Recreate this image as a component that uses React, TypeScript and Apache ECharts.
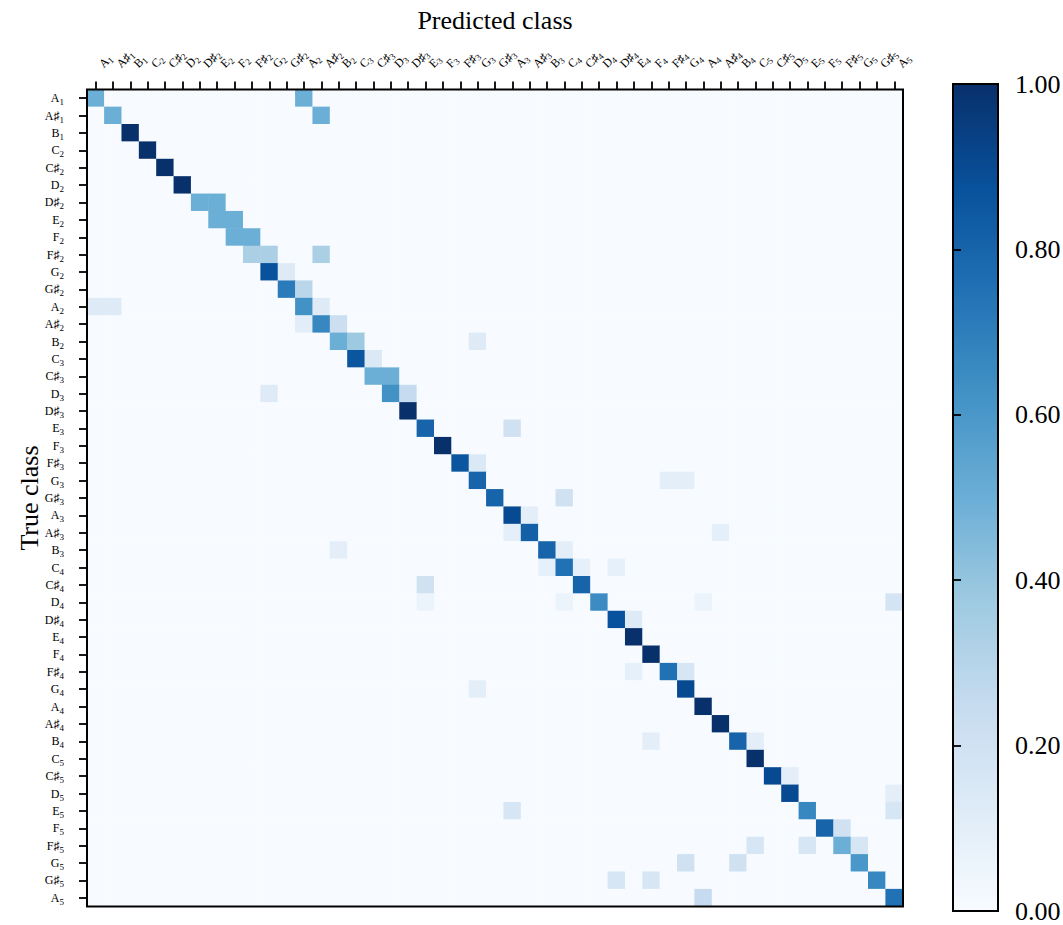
import React, { useEffect, useRef } from 'react';
import * as echarts from 'echarts';

// ---------- data ----------
const classes: string[] = [
  'A1', 'A#1', 'B1', 'C2', 'C#2', 'D2', 'D#2', 'E2', 'F2', 'F#2', 'G2', 'G#2',
  'A2', 'A#2', 'B2', 'C3', 'C#3', 'D3', 'D#3', 'E3', 'F3', 'F#3', 'G3', 'G#3',
  'A3', 'A#3', 'B3', 'C4', 'C#4', 'D4', 'D#4', 'E4', 'F4', 'F#4', 'G4', 'A4',
  'A#4', 'B4', 'C5', 'C#5', 'D5', 'E5', 'F5', 'F#5', 'G5', 'G#5', 'A5',
];

// Non-zero cells of the row-normalised confusion matrix: [true class, predicted class, value]
const nonzeroCells: [string, string, number][] = [
  ['A1', 'A1', 0.5], ['A1', 'A2', 0.5],
  ['A#1', 'A#1', 0.5], ['A#1', 'A#2', 0.5],
  ['B1', 'B1', 1.0],
  ['C2', 'C2', 1.0],
  ['C#2', 'C#2', 1.0],
  ['D2', 'D2', 1.0],
  ['D#2', 'D#2', 0.5], ['D#2', 'E2', 0.5],
  ['E2', 'E2', 0.5], ['E2', 'F2', 0.5],
  ['F2', 'F2', 0.5], ['F2', 'F#2', 0.5],
  ['F#2', 'F#2', 0.333], ['F#2', 'G2', 0.333], ['F#2', 'A#2', 0.333],
  ['G2', 'G2', 0.875], ['G2', 'G#2', 0.125],
  ['G#2', 'G#2', 0.714], ['G#2', 'A2', 0.286],
  ['A2', 'A1', 0.125], ['A2', 'A#1', 0.125], ['A2', 'A2', 0.625], ['A2', 'A#2', 0.125],
  ['A#2', 'A2', 0.111], ['A#2', 'A#2', 0.667], ['A#2', 'B2', 0.222],
  ['B2', 'B2', 0.5], ['B2', 'C3', 0.375], ['B2', 'G3', 0.125],
  ['C3', 'C3', 0.857], ['C3', 'C#3', 0.143],
  ['C#3', 'C#3', 0.5], ['C#3', 'D3', 0.5],
  ['D3', 'G2', 0.125], ['D3', 'D3', 0.625], ['D3', 'D#3', 0.25],
  ['D#3', 'D#3', 1.0],
  ['E3', 'E3', 0.8], ['E3', 'A3', 0.2],
  ['F3', 'F3', 1.0],
  ['F#3', 'F#3', 0.857], ['F#3', 'G3', 0.143],
  ['G3', 'G3', 0.8], ['G3', 'F#4', 0.1], ['G3', 'G4', 0.1],
  ['G#3', 'G#3', 0.8], ['G#3', 'C4', 0.2],
  ['A3', 'A3', 0.9], ['A3', 'A#3', 0.1],
  ['A#3', 'A3', 0.091], ['A#3', 'A#3', 0.818], ['A#3', 'A#4', 0.091],
  ['B3', 'B2', 0.1], ['B3', 'B3', 0.8], ['B3', 'C4', 0.1],
  ['C4', 'B3', 0.083], ['C4', 'C4', 0.75], ['C4', 'C#4', 0.083], ['C4', 'D#4', 0.083],
  ['C#4', 'E3', 0.2], ['C#4', 'C#4', 0.8],
  ['D4', 'E3', 0.059], ['D4', 'C4', 0.059], ['D4', 'D4', 0.647], ['D4', 'A4', 0.059], ['D4', 'A5', 0.176],
  ['D#4', 'D#4', 0.875], ['D#4', 'E4', 0.125],
  ['E4', 'E4', 1.0],
  ['F4', 'F4', 1.0],
  ['F#4', 'E4', 0.083], ['F#4', 'F#4', 0.75], ['F#4', 'G4', 0.167],
  ['G4', 'G3', 0.1], ['G4', 'G4', 0.9],
  ['A4', 'A4', 1.0],
  ['A#4', 'A#4', 1.0],
  ['B4', 'F4', 0.1], ['B4', 'B4', 0.8], ['B4', 'C5', 0.1],
  ['C5', 'C5', 1.0],
  ['C#5', 'C#5', 0.9], ['C#5', 'D5', 0.1],
  ['D5', 'D5', 0.9], ['D5', 'A5', 0.1],
  ['E5', 'A3', 0.167], ['E5', 'E5', 0.667], ['E5', 'A5', 0.167],
  ['F5', 'F5', 0.8], ['F5', 'F#5', 0.2],
  ['F#5', 'C5', 0.167], ['F#5', 'E5', 0.167], ['F#5', 'F#5', 0.5], ['F#5', 'G5', 0.167],
  ['G5', 'G4', 0.2], ['G5', 'B4', 0.2], ['G5', 'G5', 0.6],
  ['G#5', 'D#4', 0.167], ['G#5', 'F4', 0.167], ['G#5', 'G#5', 0.667],
  ['A5', 'A4', 0.25], ['A5', 'A5', 0.75],
];

// matplotlib "Blues" colormap stops
const bluesColormap: string[] = [
  '#f7fbff', '#deebf7', '#c6dbef', '#9ecae1', '#6baed6',
  '#4292c6', '#2171b5', '#08519c', '#08306b',
];

const colorbarMin = 0;
const colorbarMax = 1;
const colorbarStep = 0.2;

// ---------- layout / style ----------
const FONT = "'Liberation Serif', 'Times New Roman', 'DejaVu Serif', serif";
const PLOT = { left: 87, top: 89.5, width: 816, height: 817 };
const CBAR = { left: 953, top: 84, width: 45, height: 827 };

function noteLabel(code: string): string {
  const m = /^([A-G])(#?)(\d)$/.exec(code);
  if (!m) return code;
  return `{n|${m[1]}${m[2] ? '\u266F' : ''}}{s|${m[3]}}`;
}

function buildMatrix(): [number, number, number][] {
  const idx: Record<string, number> = {};
  classes.forEach((c, i) => (idx[c] = i));
  const grid: number[][] = classes.map(() => classes.map(() => 0));
  nonzeroCells.forEach(([t, p, v]) => {
    grid[idx[t]][idx[p]] = v;
  });
  const out: [number, number, number][] = [];
  for (let r = 0; r < classes.length; r++) {
    for (let c = 0; c < classes.length; c++) {
      out.push([c, r, grid[r][c]]);
    }
  }
  return out;
}

export default function App() {
  const ref = useRef<HTMLDivElement>(null);

  useEffect(() => {
    if (!ref.current) return;
    const chart = echarts.init(ref.current, undefined, { renderer: 'svg' });

    const tickStyle = { color: '#000', width: 1.8 };

    const option: any = {
      animation: false,
      backgroundColor: '#fff',
      textStyle: { fontFamily: FONT, color: '#000' },
      grid: [
        { ...PLOT, outerBoundsMode: 'none', containLabel: false, show: false },
        { ...CBAR, outerBoundsMode: 'none', containLabel: false, show: false },
      ],
      xAxis: [
        {
          type: 'category',
          gridIndex: 0,
          data: classes,
          position: 'top',
          z: 10,
          axisLine: { show: false },
          axisTick: { show: true, alignWithLabel: true, length: 8, lineStyle: tickStyle },
          splitLine: { show: false },
          axisLabel: {
            interval: 0,
            // ECharts negates the rotation for a top axis: -45 reads up-right
            rotate: -45,
            margin: 29,
            align: 'left',
            verticalAlign: 'top',
            hideOverlap: false,
            color: '#000',
            formatter: (v: string) => noteLabel(v),
            rich: {
              n: { fontSize: 12, fontFamily: FONT, color: '#000' },
              s: { fontSize: 9, fontFamily: FONT, color: '#000', padding: [6, 0, 0, 0] },
            },
          },
          name: 'Predicted class',
          nameLocation: 'middle',
          nameGap: 56,
          nameMoveOverlap: false,
          nameTextStyle: { fontSize: 26, fontFamily: FONT, color: '#000' },
        },
        { type: 'value', gridIndex: 1, show: false, min: 0, max: 1 },
      ],
      yAxis: [
        {
          type: 'category',
          gridIndex: 0,
          data: classes,
          inverse: true,
          z: 10,
          axisLine: { show: false },
          axisTick: { show: true, alignWithLabel: true, length: 8, lineStyle: tickStyle },
          splitLine: { show: false },
          axisLabel: {
            interval: 0,
            margin: 23,
            hideOverlap: false,
            color: '#000',
            formatter: (v: string) => noteLabel(v),
            rich: {
              n: { fontSize: 12, fontFamily: FONT, color: '#000' },
              s: { fontSize: 9, fontFamily: FONT, color: '#000', padding: [8, 0, 0, 0] },
            },
          },
          name: 'True class',
          nameLocation: 'middle',
          nameGap: 45,
          nameMoveOverlap: false,
          nameRotate: 90,
          nameTextStyle: { fontSize: 26, fontFamily: FONT, color: '#000' },
        },
        {
          type: 'value',
          gridIndex: 1,
          position: 'right',
          min: colorbarMin,
          max: colorbarMax,
          interval: colorbarStep,
          z: 10,
          axisLine: { show: false },
          axisTick: { show: true, length: 8, lineStyle: tickStyle },
          splitLine: { show: false },
          axisLabel: {
            margin: 17,
            color: '#000',
            fontSize: 26,
            fontFamily: FONT,
            padding: [6, 0, 0, 0],
            formatter: (v: number) => v.toFixed(2),
          },
        },
      ],
      visualMap: {
        type: 'continuous',
        seriesIndex: 0,
        min: colorbarMin,
        max: colorbarMax,
        calculable: false,
        hoverLink: false,
        orient: 'vertical',
        left: CBAR.left,
        top: CBAR.top,
        itemWidth: CBAR.width,
        itemHeight: CBAR.height,
        padding: 0,
        inRange: { color: bluesColormap },
      },
      graphic: [
        {
          type: 'rect',
          z: 100,
          silent: true,
          shape: { x: PLOT.left, y: PLOT.top, width: PLOT.width, height: PLOT.height },
          style: { fill: 'none', stroke: '#000', lineWidth: 2 },
        },
        {
          type: 'rect',
          z: 100,
          silent: true,
          shape: { x: CBAR.left, y: CBAR.top, width: CBAR.width, height: CBAR.height },
          style: { fill: 'none', stroke: '#000', lineWidth: 2 },
        },
      ],
      series: [
        {
          type: 'heatmap',
          xAxisIndex: 0,
          yAxisIndex: 0,
          data: buildMatrix(),
          itemStyle: { borderWidth: 0 },
          emphasis: { disabled: true },
        },
        {
          type: 'line',
          xAxisIndex: 1,
          yAxisIndex: 1,
          data: [],
          silent: true,
        },
      ],
    };

    chart.setOption(option);
    return () => chart.dispose();
  }, []);

  return (
    <div
      ref={ref}
      style={{ position: 'absolute', left: 0, top: 0, width: 1063, height: 925 }}
    />
  );
}
